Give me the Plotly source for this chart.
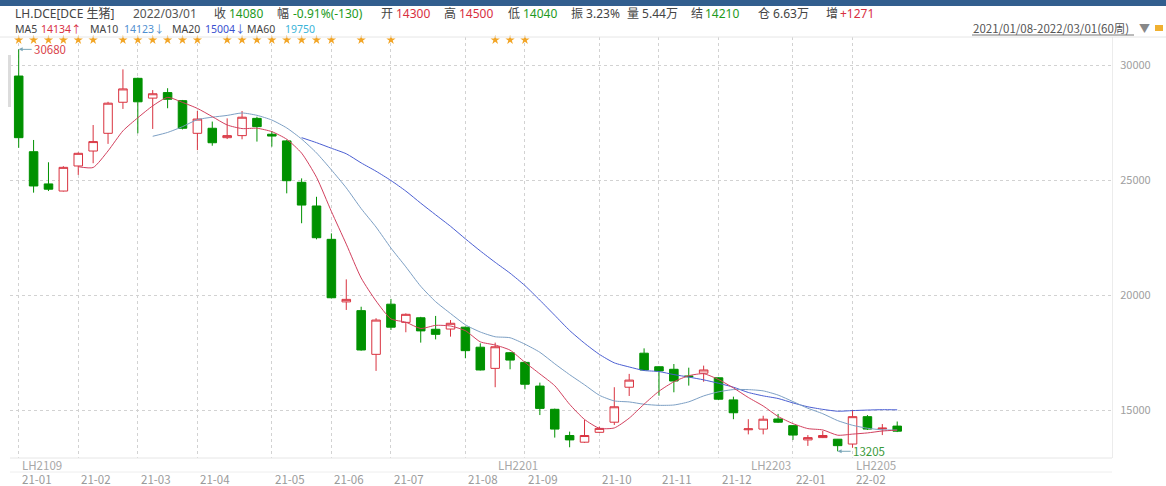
import plotly.graph_objects as go
import pandas as pd

# ---------------- data ----------------
weeks = list(range(60))
opens = [29520, 26230, 24830, 24520, 25610, 26260, 27030, 28380, 29420, 28560,
         28800, 28450, 27030, 27250, 26840, 26930, 27680, 26990, 26700, 24900,
         23870, 22420, 19700, 19320, 17420, 19600, 18810, 19010, 18510, 18520,
         18600, 17730, 16810, 17490, 17070, 16040, 15030, 13890, 13600, 14030,
         14470, 15990, 17470, 16880, 16770, 16480, 16600, 16400, 15440, 14140,
         14170, 14610, 14320, 13700, 13800, 13730, 13520, 14710, 14180, 14300]
highs = [30680, 26740, 25770, 25600, 26200, 27390, 28400, 29810, 29450, 28910,
         28990, 28480, 28000, 27540, 27680, 28000, 27750, 27130, 26750, 25070,
         24270, 22680, 20680, 19490, 18990, 19830, 19200, 19050, 19090, 18910,
         18620, 17900, 17930, 17520, 17130, 16190, 15060, 14060, 14570, 14280,
         15990, 16570, 17680, 16900, 17000, 16840, 16930, 16420, 15580, 14600,
         14750, 14830, 14330, 13910, 14090, 13740, 15000, 14780, 14390, 14500]
lows = [26400, 24450, 24520, 24500, 25220, 25730, 26570, 28090, 27030, 27220,
        28120, 27200, 26300, 26490, 26780, 26770, 26670, 26450, 24420, 23120,
        22420, 19850, 19350, 17580, 16700, 18480, 18380, 17930, 18070, 18190,
        17250, 16720, 15990, 16770, 15900, 14780, 13800, 13380, 13570, 14010,
        14350, 15610, 16720, 15620, 15770, 16060, 16230, 15430, 14600, 13940,
        13940, 14440, 13700, 13440, 13780, 13205, 13360, 14130, 13910, 14040]
closes = [26840, 24740, 24600, 25550, 26160, 26670, 28340, 28960, 28400, 28750,
          28510, 27250, 27650, 26620, 26930, 27730, 27320, 26910, 24970, 23910,
          22490, 19880, 19810, 17610, 18910, 18600, 19160, 18440, 18290, 18770,
          17580, 16740, 17750, 17170, 16120, 15070, 14170, 13700, 13890, 14200,
          15140, 16300, 16740, 16700, 16260, 16450, 16740, 15470, 14880, 14180,
          14600, 14470, 13910, 13800, 13890, 13450, 14710, 14170, 14210, 14080]

month_pos = [0, 4, 8, 12, 17, 21, 25, 30, 34, 39, 43, 47, 52, 56]
month_labels = ["21-01", "21-02", "21-03", "21-04", "21-05", "21-06", "21-07",
                "21-08", "21-09", "21-10", "21-11", "21-12", "22-01", "22-02"]
contract_pos = [0, 32, 49, 56]
contract_labels = ["LH2109", "LH2201", "LH2203", "LH2205"]
star_pos = [0, 1, 2, 3, 4, 5, 7, 8, 9, 10, 11, 12, 14, 15, 16, 17, 18, 19, 20,
            21, 23, 25, 32, 33, 34]
y_ticks = [15000, 20000, 25000, 30000]

# ---------------- layout helpers ----------------
W, H = 1166, 486
L, R, T, B = 10, 1112, 37, 458
PX_PER_VAL = 43.478          # value units per pixel
def fx(px):
    return (px - L) / (R - L)
def fy(py):
    return (B - py) / (B - T)
def yval(py):
    return 30000 - (py - 65) * PX_PER_VAL

RED = "#d9323f"
GREEN = "#009100"
FONT = "Noto Sans CJK SC"
HFONT = "Noto Sans, Noto Sans CJK SC"

s = pd.Series(closes)
ma5 = s.rolling(5).mean()
ma10 = s.rolling(10).mean()
ma20 = s.rolling(20).mean()

fig = go.Figure()
fig.add_trace(go.Candlestick(
    x=weeks, open=opens, high=highs, low=lows, close=closes,
    increasing=dict(line=dict(color=RED, width=1), fillcolor="white"),
    decreasing=dict(line=dict(color=GREEN, width=1), fillcolor=GREEN),
    whiskerwidth=0, showlegend=False, hoverinfo="skip"))
for ma, col in [(ma20, "#4a5ed2"), (ma10, "#7c9fc4"), (ma5, "#d2405e")]:
    fig.add_trace(go.Scatter(x=weeks, y=ma, mode="lines",
                             line=dict(color=col, width=1, shape="spline", smoothing=0.6),
                             showlegend=False, hoverinfo="skip"))
fig.add_trace(go.Scatter(x=star_pos, y=[yval(40)] * len(star_pos), mode="markers",
                         marker=dict(symbol="star", size=7, color="#f2a526", line=dict(width=0)),
                         showlegend=False, hoverinfo="skip", cliponaxis=False))

ann = []
for p, t in zip(month_pos, month_labels):
    ann.append(dict(x=p, xref="x", y=fy(479), yref="paper", text=t, showarrow=False,
                    xanchor="left", yanchor="middle", xshift=1,
                    font=dict(family=FONT, size=11.5, color="#9a9a9a")))
for p, t in zip(contract_pos, contract_labels):
    ann.append(dict(x=p, xref="x", y=fy(465), yref="paper", text=t, showarrow=False,
                    xanchor="left", yanchor="middle", xshift=1,
                    font=dict(family=FONT, size=11.5, color="#a8a8a8")))
hi_i = highs.index(max(highs))
lo_i = lows.index(min(lows))
ann.append(dict(x=hi_i, y=max(highs), xref="x", yref="y", text=str(max(highs)),
                showarrow=True, ax=13, ay=0, xanchor="left", arrowhead=2, arrowsize=0.8,
                arrowwidth=1, arrowcolor="#7aa6b8",
                font=dict(family=FONT, size=11.5, color="#d9434a")))
ann.append(dict(x=lo_i, y=min(lows), xref="x", yref="y", text=str(min(lows)),
                showarrow=True, ax=13, ay=0, xanchor="left", arrowhead=2, arrowsize=0.8,
                arrowwidth=1, arrowcolor="#7aa6b8",
                font=dict(family=FONT, size=11.5, color="#3a9a3a")))

DARK = "#444444"
hdr1 = [(14, "LH.DCE[DCE 生猪]", DARK), (132, "2022/03/01", "#555555"),
        (213, "收", DARK), (228, "14080", "#1e9a1e"),
        (276, "幅", DARK), (292, "-0.91%(-130)", "#1e9a1e"),
        (380, "开", DARK), (395, "14300", "#d8303f"),
        (443, "高", DARK), (458, "14500", "#d8303f"),
        (507, "低", DARK), (522, "14040", "#1e9a1e"),
        (570, "振 3.23%", DARK), (626, "量 5.44万", DARK),
        (690, "结", DARK), (704, "14210", "#1e9a1e"),
        (757, "仓 6.63万", DARK), (825, "增", DARK), (839, "+1271", "#d8303f")]
for px, t, c in hdr1:
    ann.append(dict(x=fx(px), y=fy(13), xref="paper", yref="paper", text=t, showarrow=False,
                    xanchor="left", yanchor="middle", borderpad=0,
                    font=dict(family=HFONT, size=12, color=c)))
hdr2 = [(14, "MA5", DARK), (40, "14134↑", "#d8303f"),
        (89, "MA10", DARK), (123, "14123↓", "#4f8fd0"),
        (171, "MA20", DARK), (204, "15004↓", "#3a50d0"),
        (246, "MA60", DARK), (284, "19750", "#3cb4d8")]
for px, t, c in hdr2:
    ann.append(dict(x=fx(px), y=fy(29), xref="paper", yref="paper", text=t, showarrow=False,
                    xanchor="left", yanchor="middle", borderpad=0,
                    font=dict(family=HFONT, size=10.5, color=c)))
ann.append(dict(x=fx(972), y=fy(28), xref="paper", yref="paper",
                text="2021/01/08-2022/03/01(60周)", showarrow=False, borderpad=0,
                xanchor="left", yanchor="middle", font=dict(family=FONT, size=11.5, color="#555555")))
ann.append(dict(x=fx(1138), y=fy(28), xref="paper", yref="paper", text="▼", showarrow=False,
                xanchor="left", yanchor="middle", borderpad=0,
                font=dict(family=FONT, size=11, color="#888888")))

shapes = [
    dict(type="rect", xref="paper", yref="paper", x0=fx(0), x1=fx(W), y0=fy(0), y1=fy(6),
         fillcolor="#325e8e", line=dict(width=0), layer="above"),
    dict(type="line", xref="paper", yref="paper", x0=fx(972), x1=fx(1134), y0=fy(35), y1=fy(35),
         line=dict(color="#777777", width=1)),
    dict(type="rect", xref="paper", yref="paper", x0=fx(1155), x1=fx(1163), y0=fy(31), y1=fy(25),
         fillcolor="#f0b030", line=dict(width=0)),
    dict(type="line", xref="paper", yref="paper", x0=fx(0), x1=fx(W), y0=fy(T), y1=fy(T),
         line=dict(color="#e6e6e6", width=1)),
    dict(type="line", xref="paper", yref="paper", x0=fx(10), x1=fx(1112), y0=fy(B), y1=fy(B),
         line=dict(color="#e6e6e6", width=1)),
    dict(type="line", xref="paper", yref="paper", x0=fx(10), x1=fx(1112), y0=fy(472), y1=fy(472),
         line=dict(color="#eeeeee", width=1)),
    dict(type="rect", xref="paper", yref="paper", x0=fx(8), x1=fx(11), y0=fy(107), y1=fy(55),
         fillcolor="#dcdcdc", line=dict(width=0)),
]

y_top = yval(T)
y_bot = yval(B)
x_left = (L - 18.7) / 14.89
x_right = (R - 18.7) / 14.89

fig.update_layout(
    width=W, height=H, margin=dict(l=L, r=W - R, t=T, b=H - B, pad=0),
    paper_bgcolor="white", plot_bgcolor="white", boxgap=0.18,
    showlegend=False, annotations=ann, shapes=shapes, hovermode=False,
    xaxis=dict(range=[x_left, x_right], tickvals=month_pos, showticklabels=False,
               showgrid=True, gridcolor="#d2d2d2", griddash="dot", gridwidth=1,
               zeroline=False, showline=False, rangeslider=dict(visible=False), fixedrange=True),
    yaxis=dict(range=[y_bot, y_top], side="right", tickvals=y_ticks,
               ticktext=[str(v) for v in y_ticks],
               showgrid=True, gridcolor="#d2d2d2", griddash="dot", gridwidth=1,
               zeroline=False, showline=True, linecolor="#ececec", linewidth=1,
               ticks="", ticklabelstandoff=5,
               tickfont=dict(family=FONT, size=11, color="#a0a0a0"), fixedrange=True),
)

fig.write_html("out.html", config={"displayModeBar": False},
               post_script="document.body.style.margin='0';document.body.style.overflow='hidden';")
